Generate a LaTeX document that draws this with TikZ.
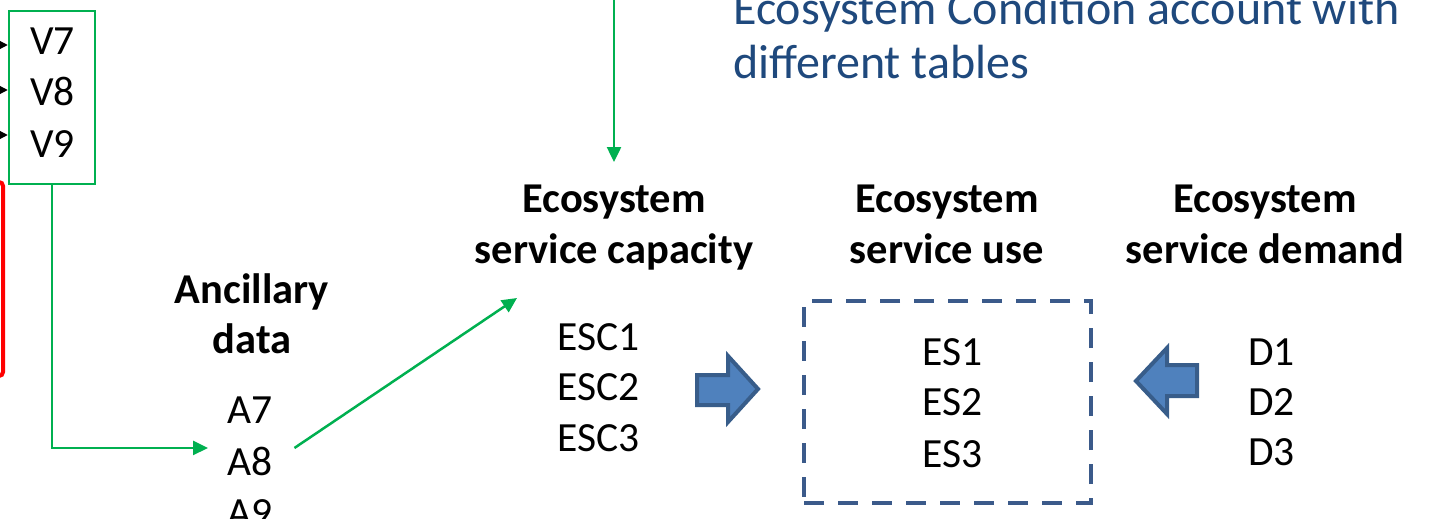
\documentclass[tikz,border=0pt]{standalone}
\usepackage{fontspec}
\setmainfont{Carlito}
\usetikzlibrary{arrows.meta,calc}
\definecolor{gr}{HTML}{00B050}
\definecolor{ttl}{HTML}{1F497D}
\definecolor{arfill}{HTML}{4F81BD}
\definecolor{arline}{HTML}{385D8A}
\definecolor{dbox}{HTML}{3B5A8A}
\tikzset{
  lbl/.style={inner sep=0pt,font=\fontsize{41.5}{51}\selectfont,anchor=base west},
  hdr/.style={inner sep=0pt,font=\fontsize{42.5}{51}\selectfont\bfseries,anchor=base},
  garrow/.style={draw=gr,line width=2.5pt,-{Triangle[length=15pt,width=14pt]}},
  gline/.style={draw=gr,line width=2.5pt},
  karrow/.style={draw=black,line width=1.2pt,-{Triangle[length=8pt,width=8pt]}},
  blockarrow/.style={draw=arline,fill=arfill,line width=4pt,line join=miter},
}
\begin{document}
\begin{tikzpicture}[x=1pt,y=-1pt]
\useasboundingbox (0,0) rectangle (1441,519);
% red box (mostly off picture)
\draw[red,line width=4pt,rounded corners=4pt] (-60,182) rectangle (3,376);
% V box
\node[draw=gr,line width=2.5pt,minimum width=86pt,minimum height=173pt,inner sep=0pt] (vbox) at (52,97.5) {};
\node[lbl] (v7) at (30,55) {V7};
\node[lbl] (v8) at (30,106) {V8};
\node[lbl] (v9) at (30,157) {V9};
\coordinate (k7) at (-30,45);
\coordinate (k8) at (-30,90);
\coordinate (k9) at (-30,135);
\draw[karrow] (k7) -- (k7 -| vbox.west);
\draw[karrow] (k8) -- (k8 -| vbox.west);
\draw[karrow] (k9) -- (k9 -| vbox.west);
% ancillary
\node[hdr] (anc1) at (252,303) {Ancillary};
\node[hdr] (anc2) at (252,353) {data};
\node[lbl] (a7) at (227,423) {A7};
\node[lbl] (a8) at (227,475) {A8};
\node[lbl] (a9) at (227,526) {A9};
\draw[garrow] (vbox.south) |- ($(a8.west)+(-19,-13)$);
% title text
\node[inner sep=0pt,anchor=base west,text=ttl,font=\fontsize{48}{53}\selectfont] (t1) at (733,25) {Ecosystem Condition account with};
\node[inner sep=0pt,anchor=base west,text=ttl,font=\fontsize{48}{53}\selectfont] (t2) at (733,78) {different tables};
% capacity
\coordinate (topin) at (614,-10);
\node[hdr] (cap1) at (614,212) {Ecosystem};
\node[hdr] (cap2) at (614,263) {service capacity};
\draw[garrow] (topin) -- (614,162);
\coordinate (diagend) at (517,298);
\draw[garrow] ($(a8.east)+(22,-13)$) -- (diagend);
\node[lbl] (esc1) at (557,350) {ESC1};
\node[lbl] (esc2) at (557,400) {ESC2};
\node[lbl] (esc3) at (557,451) {ESC3};
% use
\node[hdr] (use1) at (947,212) {Ecosystem};
\node[hdr] (use2) at (947,263) {service use};
\node[draw=dbox,line width=4pt,dash pattern=on 20pt off 14pt,minimum width=287pt,minimum height=202pt,inner sep=0pt] (dbox) at (947.5,402) {};
\node[lbl] (es1) at (922,365) {ES1};
\node[lbl] (es2) at (922,415) {ES2};
\node[lbl] (es3) at (922,467) {ES3};
% demand
\node[hdr] (dem1) at (1265,212) {Ecosystem};
\node[hdr] (dem2) at (1265,263) {service demand};
\node[lbl] (d1) at (1248,365) {D1};
\node[lbl] (d2) at (1248,415) {D2};
\node[lbl] (d3) at (1248,465) {D3};
% block arrows
\draw[blockarrow] (697,375) -- (728,375) -- (728,356) -- (758,389) -- (728,422) -- (728,405) -- (697,405) -- cycle;
\draw[blockarrow] (1197,365) -- (1167,365) -- (1167,348) -- (1136,381) -- (1167,414) -- (1167,396) -- (1197,396) -- cycle;
\end{tikzpicture}
\end{document}
